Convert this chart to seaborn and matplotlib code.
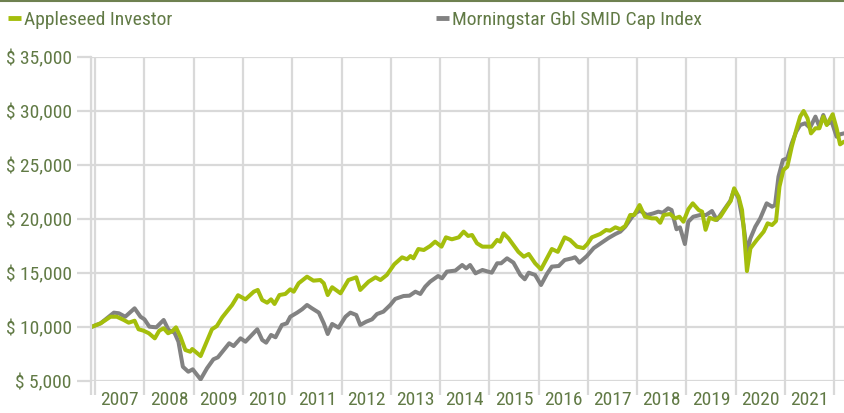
import matplotlib.pyplot as plt
import matplotlib.ticker as mticker
from matplotlib import font_manager
from matplotlib.lines import Line2D
import pandas as pd
import seaborn as sns


# values (growth of $10,000, time in decimal years)
fund_year = [2006.92, 2007.11, 2007.31, 2007.44, 2007.58, 2007.68, 2007.80, 2007.88, 2007.98,
             2008.09, 2008.21, 2008.30, 2008.39, 2008.48, 2008.57, 2008.64, 2008.73, 2008.83,
             2008.93, 2008.97, 2009.14, 2009.25, 2009.37, 2009.47, 2009.58, 2009.78, 2009.90,
             2010.05, 2010.22, 2010.30, 2010.39, 2010.49, 2010.57, 2010.64, 2010.74, 2010.86,
             2010.96, 2011.03, 2011.13, 2011.30, 2011.43, 2011.57, 2011.64, 2011.72, 2011.81,
             2011.98, 2012.14, 2012.30, 2012.38, 2012.55, 2012.69, 2012.79, 2012.92, 2013.07,
             2013.23, 2013.33, 2013.40, 2013.46, 2013.56, 2013.67, 2013.80, 2013.90, 2014.03,
             2014.12, 2014.24, 2014.38, 2014.48, 2014.57, 2014.65, 2014.75, 2014.86, 2015.05,
             2015.16, 2015.22, 2015.29, 2015.39, 2015.49, 2015.59, 2015.70, 2015.80, 2015.93,
             2016.05, 2016.17, 2016.27, 2016.39, 2016.53, 2016.64, 2016.78, 2016.91, 2016.99,
             2017.08, 2017.25, 2017.37, 2017.45, 2017.56, 2017.66, 2017.76, 2017.86, 2017.94,
             2018.05, 2018.16, 2018.30, 2018.39, 2018.47, 2018.54, 2018.67, 2018.77, 2018.86,
             2018.94, 2019.04, 2019.13, 2019.25, 2019.32, 2019.39, 2019.47, 2019.59, 2019.69,
             2019.82, 2019.90, 2019.97, 2020.06, 2020.13, 2020.17, 2020.23, 2020.30, 2020.43,
             2020.57, 2020.65, 2020.74, 2020.82, 2020.89, 2020.97, 2021.05, 2021.14, 2021.23,
             2021.31, 2021.38, 2021.46, 2021.53, 2021.62, 2021.70, 2021.78, 2021.85, 2021.97,
             2022.05, 2022.12, 2022.20]
fund_value = [10000, 10340, 10950, 10950, 10650, 10400, 10580, 9790, 9660,
              9420, 8950, 9660, 9880, 9420, 9630, 9970, 9100, 7870,
              7710, 7960, 7310, 8490, 9790, 10090, 10900, 12040, 12940,
              12560, 13270, 13430, 12500, 12250, 12560, 12130, 12960, 13060,
              13490, 13270, 14050, 14660, 14290, 14350, 14050, 12960, 13680,
              13120, 14350, 14600, 13430, 14200, 14600, 14350, 14820, 15800,
              16450, 16270, 16570, 16360, 17220, 17130, 17500, 17900, 17440,
              18300, 18120, 18300, 18830, 18430, 18520, 17750, 17440, 17440,
              18060, 17900, 18670, 18210, 17590, 16960, 16510, 16760, 15900,
              15340, 16360, 17220, 16960, 18300, 18060, 17440, 17310, 17680,
              18300, 18610, 18980, 18920, 19230, 19050, 19350, 20370, 20370,
              21290, 20210, 20060, 20060, 19650, 20370, 20460, 20060, 20210,
              19750, 20900, 21450, 20830, 20680, 19000, 20120, 19910, 20210,
              21140, 21670, 22840, 22060, 20830, 18830, 15180, 17280, 18060,
              18830, 19600, 19440, 19810, 22990, 24540, 24850, 26700, 28240,
              29480, 30000, 29320, 27930, 28400, 28400, 29480, 28700, 29700,
              28400, 26910, 27160]

index_year = [2006.92, 2007.11, 2007.38, 2007.48, 2007.61, 2007.80, 2007.92, 2008.00, 2008.10,
              2008.24, 2008.39, 2008.49, 2008.61, 2008.69, 2008.78, 2008.89, 2008.98, 2009.14,
              2009.27, 2009.40, 2009.49, 2009.61, 2009.72, 2009.81, 2009.95, 2010.05, 2010.18,
              2010.29, 2010.39, 2010.47, 2010.57, 2010.66, 2010.79, 2010.89, 2010.96, 2011.10,
              2011.20, 2011.30, 2011.40, 2011.54, 2011.64, 2011.72, 2011.81, 2011.94, 2012.08,
              2012.18, 2012.30, 2012.38, 2012.50, 2012.62, 2012.72, 2012.85, 2012.99, 2013.09,
              2013.26, 2013.38, 2013.50, 2013.60, 2013.70, 2013.80, 2013.96, 2014.04, 2014.14,
              2014.31, 2014.45, 2014.53, 2014.61, 2014.72, 2014.86, 2015.05, 2015.16, 2015.24,
              2015.36, 2015.49, 2015.63, 2015.72, 2015.80, 2015.93, 2016.05, 2016.17, 2016.27,
              2016.41, 2016.53, 2016.68, 2016.74, 2016.83, 2016.98, 2017.12, 2017.29, 2017.42,
              2017.56, 2017.66, 2017.76, 2017.90, 2017.98, 2018.06, 2018.20, 2018.33, 2018.43,
              2018.52, 2018.63, 2018.70, 2018.80, 2018.87, 2018.97, 2019.04, 2019.14, 2019.28,
              2019.40, 2019.52, 2019.62, 2019.76, 2019.89, 2019.97, 2020.06, 2020.16, 2020.23,
              2020.30, 2020.40, 2020.50, 2020.63, 2020.74, 2020.80, 2020.87, 2020.96, 2021.05,
              2021.14, 2021.23, 2021.31, 2021.41, 2021.51, 2021.62, 2021.70, 2021.78, 2021.85,
              2021.95, 2022.05, 2022.12, 2022.20]
index_value = [10000, 10340, 11330, 11270, 10950, 11730, 10950, 10710, 10030,
               9970, 10650, 9720, 9470, 8640, 6320, 5860, 6080, 5150,
               6180, 7010, 7190, 7870, 8490, 8240, 8950, 8640, 9260,
               9790, 8800, 8550, 9260, 9050, 10190, 10340, 10950, 11330,
               11640, 12040, 11730, 11330, 10340, 9350, 10280, 9940, 10950,
               11330, 11110, 10190, 10490, 10710, 11200, 11420, 12040, 12600,
               12870, 12900, 13270, 13060, 13740, 14200, 14720, 14510, 15130,
               15220, 15740, 15430, 15740, 14970, 15280, 15030, 15900, 15900,
               16360, 15960, 14820, 14420, 15030, 14820, 13890, 14910, 15590,
               15650, 16200, 16360, 16460, 15960, 16570, 17310, 17830, 18240,
               18610, 18830, 19290, 20210, 20580, 20770, 20370, 20520, 20680,
               20580, 20990, 20830, 19050, 19230, 17680, 19750, 20210, 20370,
               20370, 20740, 19910, 20830, 21670, 22690, 21910, 19440, 16960,
               18210, 19290, 20060, 21450, 21140, 21290, 23920, 25460, 25620,
               27010, 28080, 28700, 28860, 28440, 29480, 28550, 29630, 28770,
               29010, 27620, 27840, 27930]

fund_name = 'Appleseed Investor'
index_name = 'Morningstar Gbl SMID Cap Index'
years = list(range(2007, 2022))

fund_color = '#a4be0c'
index_color = '#828282'
text_color = '#617a45'
grid_color = '#d9d9d9'

df = pd.concat([
    pd.DataFrame({'year': index_year, 'value': index_value, 'series': index_name}),
    pd.DataFrame({'year': fund_year, 'value': fund_value, 'series': fund_name}),
])

sns.set_style('white', {'axes.grid': True, 'grid.color': grid_color,
                        'xtick.bottom': True, 'ytick.left': True})

# the original uses a narrow font; take a condensed one if there is one
installed = font_manager.fontManager.ttflist
names = {f.name for f in installed}
family, stretch, size = 'Liberation Sans', 'normal', 12
for cand in ['Liberation Sans Narrow', 'Roboto Condensed', 'Arial Narrow', 'Noto Sans Condensed']:
    if cand in names:
        family, stretch, size = cand, 'normal', 14
        break
else:
    for f in installed:
        if f.name in ['Roboto', 'Noto Sans', 'Open Sans', 'DejaVu Sans'] and 'condensed' in str(f.stretch) \
                and 'extra' not in str(f.stretch) and f.style == 'normal' and f.weight in (400, 'normal', 'regular'):
            family, stretch, size = f.name, f.stretch, 14
            break
plt.rcParams['font.family'] = [family, 'DejaVu Sans']
plt.rcParams['font.stretch'] = stretch

fig = plt.figure(figsize=(8.44, 4.13), dpi=100)
ax = fig.add_axes([91 / 844, 32 / 413, 753 / 844, 324 / 413])

sns.lineplot(data=df, x='year', y='value', hue='series',
             hue_order=[index_name, fund_name],
             palette={index_name: index_color, fund_name: fund_color},
             linewidth=2.9, estimator=None, legend=False, ax=ax)

x_start, x_end = 2006.915, 2022.2
ax.set_xlim(x_start, x_end)
ax.set_ylim(5000, 35000)
ax.set_axisbelow(True)

# year boundaries as gridlines, year labels in between
ax.xaxis.set_major_locator(mticker.FixedLocator([x_start] + years + [2022]))
ax.xaxis.set_major_formatter(mticker.NullFormatter())
ax.xaxis.set_minor_locator(mticker.FixedLocator([y + 0.5 for y in years]))
ax.xaxis.set_minor_formatter(mticker.FixedFormatter([str(y) for y in years]))
ax.yaxis.set_major_locator(mticker.MultipleLocator(5000))
ax.yaxis.set_major_formatter(mticker.FuncFormatter(lambda v, p: '$ {:,.0f}'.format(v)))

ax.grid(True, which='major', color=grid_color, linewidth=1.6)
ax.grid(False, which='minor')
ax.tick_params(which='major', length=10, width=1.6, color=grid_color,
               labelcolor=text_color, labelsize=size)
ax.tick_params(axis='y', pad=4)
ax.tick_params(axis='x', which='minor', length=0, pad=7,
               labelcolor=text_color, labelsize=size)
ax.set_xlabel('')
ax.set_ylabel('')

for side in ['top', 'right', 'bottom']:
    ax.spines[side].set_visible(False)
ax.spines['left'].set_color(grid_color)
ax.spines['left'].set_linewidth(1.6)

# top rule and legend
fig.add_artist(Line2D([0, 1], [0.998, 0.998], transform=fig.transFigure,
                      color='#6e8150', linewidth=1.5))
for name, color, xpos in [(fund_name, fund_color, 8 / 844), (index_name, index_color, 436 / 844)]:
    handle = Line2D([], [], color=color, linewidth=3.5, solid_capstyle='butt')
    fig.legend(handles=[handle], labels=[name], loc='center left',
               bbox_to_anchor=(xpos, 1 - 20 / 413), frameon=False,
               handlelength=0.65, handletextpad=0.15, borderpad=0,
               borderaxespad=0, fontsize=size, labelcolor=text_color)

plt.savefig('out.png', dpi=100)
